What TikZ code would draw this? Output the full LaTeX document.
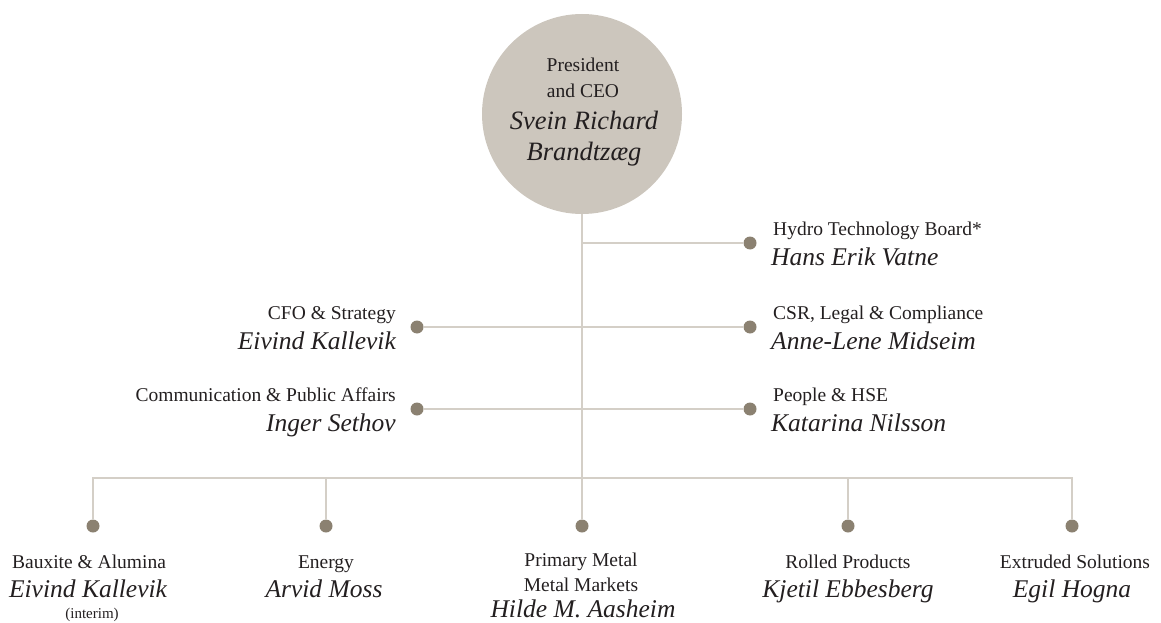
\documentclass[tikz,border=0pt]{standalone}
\usepackage{fontspec}
\setmainfont{Liberation Serif}
\definecolor{ceofill}{HTML}{CCC6BD}
\definecolor{linecol}{HTML}{D4CFC7}
\definecolor{dotcol}{HTML}{8B8171}
\definecolor{txt}{HTML}{231F20}
\tikzset{
  conn/.style={draw=linecol, line width=2pt},
  dotnode/.style={circle, fill=dotcol, minimum size=13pt, inner sep=0pt},
  role/.style={font=\fontsize{19.5}{23}\selectfont, text=txt, inner sep=0pt},
  person/.style={font=\fontsize{25.5}{30}\selectfont\itshape, text=txt, inner sep=0pt},
  ceoname/.style={font=\fontsize{26.5}{30}\selectfont\itshape, text=txt, inner sep=0pt},
  small/.style={font=\fontsize{15}{18}\selectfont, text=txt, inner sep=0pt}
}
\begin{document}
\begin{tikzpicture}[x=1pt,y=-1pt]
\useasboundingbox (0,0) rectangle (1161,623);
% CEO circle
\node[circle, fill=ceofill, minimum size=200pt, inner sep=0pt] (ceo) at (582,114) {};
\node[role, anchor=base] (ceot1) at (583,72) {President};
\node[role, anchor=base] (ceot2) at (583,98) {and CEO};
\node[ceoname, anchor=base] (ceon1) at (584,130) {Svein Richard};
\node[ceoname, anchor=base] (ceon2) at (584,160) {Brandtzæg};
% dots
\node[dotnode] (hdot) at (750,243) {};
\node[dotnode] (csrdot) at (750,327) {};
\node[dotnode] (pdot) at (750,409) {};
\node[dotnode] (cfodot) at (417,327) {};
\node[dotnode] (comdot) at (417,409) {};
\node[dotnode] (bdot) at (93,526) {};
\node[dotnode] (edot) at (326,526) {};
\node[dotnode] (pmdot) at (582,526) {};
\node[dotnode] (rdot) at (848,526) {};
\node[dotnode] (xdot) at (1072,526) {};
\coordinate (bus) at (582,478);
% connectors
\draw[conn] (ceo.south) -- (ceo.south |- bus);
\draw[conn] (ceo.south |- hdot) -- (hdot);
\draw[conn] (cfodot) -- (csrdot);
\draw[conn] (comdot) -- (pdot);
\draw[conn] (bdot) -- (bdot |- bus) -- (xdot |- bus) -- (xdot);
\draw[conn] (edot) -- (edot |- bus);
\draw[conn] (pmdot) -- (pmdot |- bus);
\draw[conn] (rdot) -- (rdot |- bus);
% right labels
\node[role, anchor=base west] (hrole) at (773,235) {Hydro Technology Board*};
\node[person, anchor=base west] (hname) at (771,265) {Hans Erik Vatne};
\node[role, anchor=base west] (csrrole) at (773,319) {CSR, Legal \& Compliance};
\node[person, anchor=base west] (csrname) at (771,349) {Anne-Lene Midseim};
\node[role, anchor=base west] (prole) at (773,401) {People \& HSE};
\node[person, anchor=base west] (pname) at (771,431) {Katarina Nilsson};
% left labels
\node[role, anchor=base east] (cforole) at (396,319) {CFO \& Strategy};
\node[person, anchor=base east] (cfoname) at (396,349) {Eivind Kallevik};
\node[role, anchor=base east] (comrole) at (396,401) {Communication \& Public Affairs};
\node[person, anchor=base east] (comname) at (396,431) {Inger Sethov};
% bottom labels
\node[role, anchor=base] (brole) at (89,568) {Bauxite \& Alumina};
\node[person, anchor=base] (bname) at (88,597) {Eivind Kallevik};
\node[small, anchor=base] (bint) at (92,618) {(interim)};
\node[role, anchor=base] (erole) at (326,568) {Energy};
\node[person, anchor=base] (ename) at (324,597) {Arvid Moss};
\node[role, anchor=base] (pmrole1) at (581,566) {Primary Metal};
\node[role, anchor=base] (pmrole2) at (581,591) {Metal Markets};
\node[person, anchor=base] (pmname) at (583,617) {Hilde M. Aasheim};
\node[role, anchor=base] (rrole) at (848,568) {Rolled Products};
\node[person, anchor=base] (rname) at (848,597) {Kjetil Ebbesberg};
\node[role, anchor=base] (xrole) at (1075,568) {Extruded Solutions};
\node[person, anchor=base] (xname) at (1072,597) {Egil Hogna};
\end{tikzpicture}
\end{document}
